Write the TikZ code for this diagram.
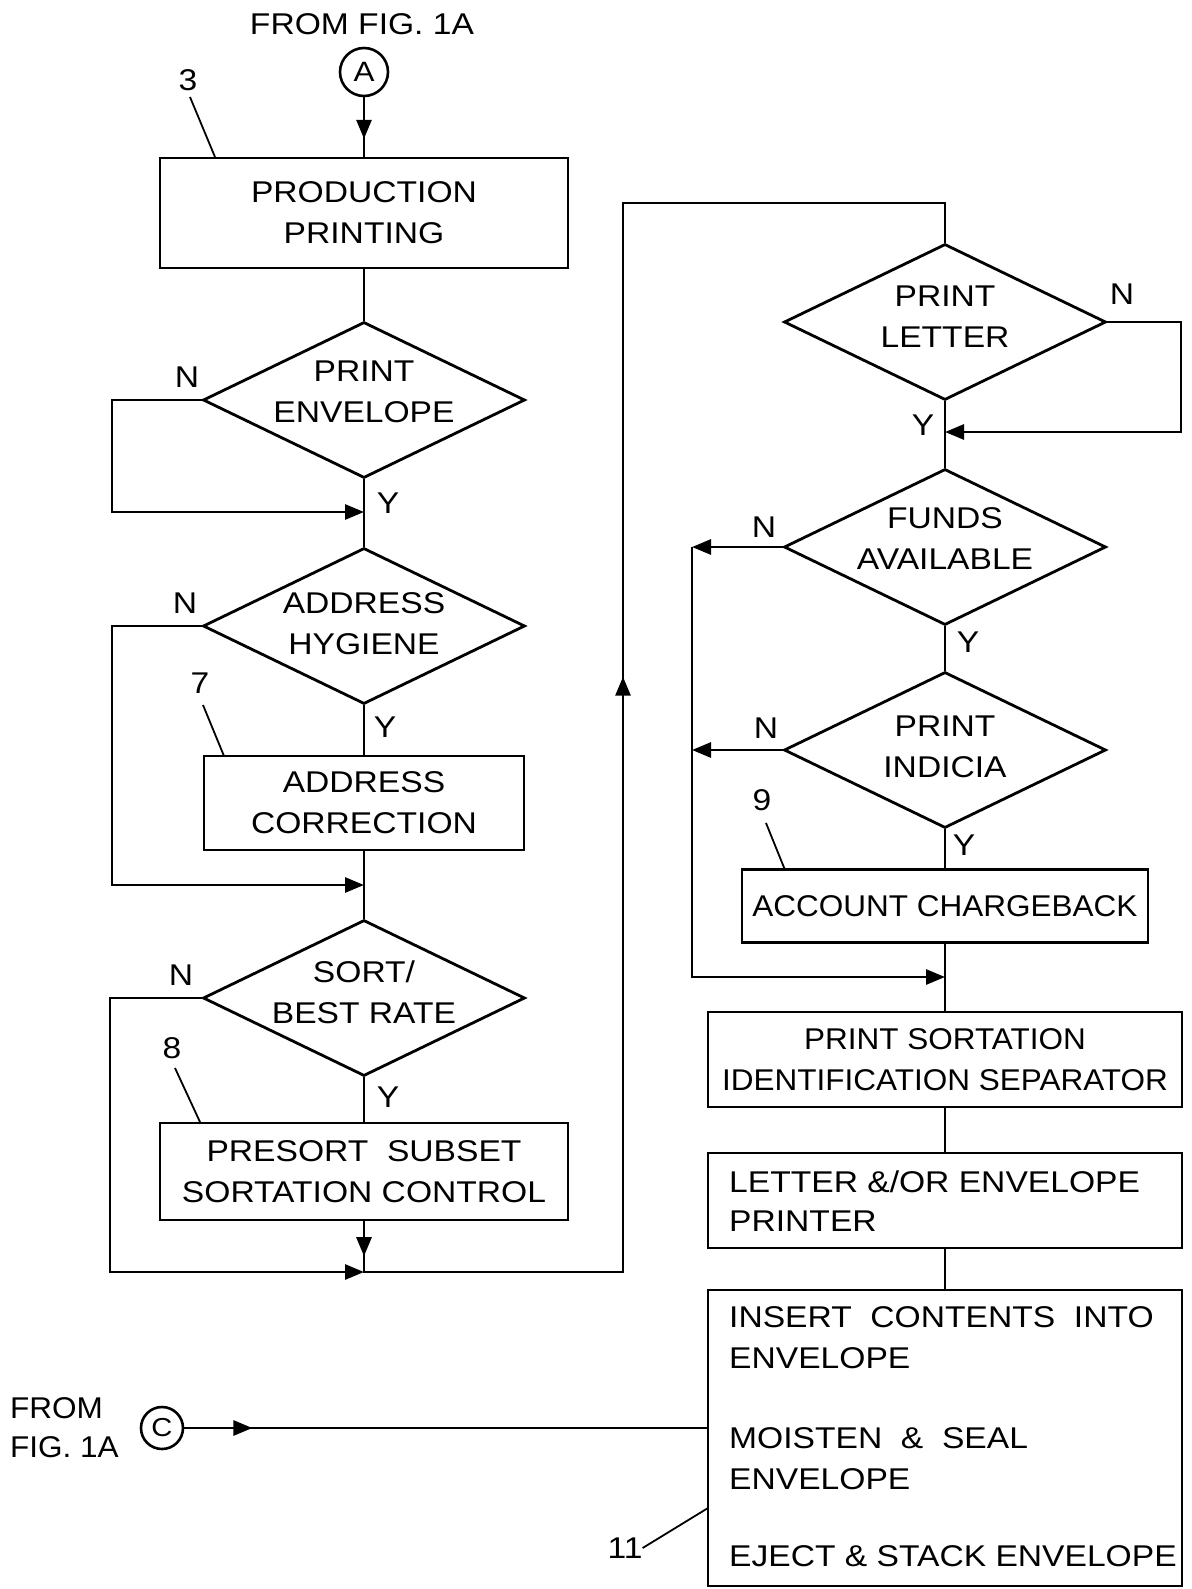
\documentclass[tikz,border=0pt]{standalone}
\usepackage{fontspec}
\setmainfont[FakeStretch=1.12]{Liberation Sans}
\newfontfamily\narrowfam[FakeStretch=1.05]{Liberation Sans}
\usetikzlibrary{shapes.geometric,arrows.meta,decorations.markings}
\newcommand\mainfs{\fontsize{30}{41}\selectfont}
\newcommand\smallfs{\fontsize{28}{30}\selectfont}
\begin{document}
\begin{tikzpicture}[x=1pt,y=-1pt,
  conn/.style={line width=2.8pt, line join=miter},
  arr/.style={conn, -{Triangle[length=19pt,width=15pt]}},
  midarr/.style={conn, postaction={decorate}, decoration={markings, mark=at position #1 with {\arrow{Triangle[length=19pt,width=15pt]}}}},
  box/.style={draw, line width=2.8pt, inner sep=0pt, align=center, font=\mainfs},
  dia/.style={draw, diamond, line width=2.8pt, inner sep=0pt, minimum width=322pt, minimum height=156pt},
  txt/.style={align=center, font=\mainfs, inner sep=0pt},
  ltxt/.style={anchor=west, align=left, font=\mainfs, inner sep=0pt},
  lbl/.style={font=\mainfs, inner sep=0pt},
  conncirc/.style={draw, circle, line width=2.6pt, inner sep=0pt, font=\smallfs},
  leader/.style={line width=1.8pt}
]
\useasboundingbox (0,0) rectangle (1191,1589);

% ---------- left column ----------
\node[txt] (fromA) at (362,24) {FROM FIG. 1A};
\node[conncirc, minimum size=48pt] (A) at (364,72) {A};
\node[box, minimum width=408pt, minimum height=110pt] (prod) at (364,213) {PRODUCTION\\PRINTING};
\node[lbl] (l3) at (188,80) {3};

\node[dia] (d1) at (364,400) {};
\node[txt] (t1) at ([yshift=8pt]d1.center) {PRINT\\ENVELOPE};
\node[dia] (d2) at (364,626) {};
\node[txt] (t2) at ([yshift=2pt]d2.center) {ADDRESS\\HYGIENE};
\node[box, minimum width=320pt, minimum height=94pt] (acor) at (364,803) {ADDRESS\\CORRECTION};
\node[lbl] (l7) at (200,683) {7};
\node[dia] (d3) at (364,998) {};
\node[txt] (t3) at ([yshift=6pt]d3.center) {SORT/\\BEST RATE};
\node[box, minimum width=408pt, minimum height=97pt] (presort) at (364,1171.5) {PRESORT\ \ SUBSET\\SORTATION CONTROL};
\node[lbl] (l8) at (172,1048) {8};

\node[lbl] (n1) at (187,377) {N};
\node[lbl] (y1) at (388,503) {Y};
\node[lbl] (n2) at (185,603) {N};
\node[lbl] (y2) at (385,727) {Y};
\node[lbl] (n3) at (181,975) {N};
\node[lbl] (y3) at (388,1097) {Y};

% ---------- right column ----------
\node[dia] (d4) at (945,322) {};
\node[txt] (t4) at ([yshift=5pt]d4.center) {PRINT\\LETTER};
\node[dia] (d5) at (945,547) {};
\node[txt] (t5) at ([yshift=8pt]d5.center) {FUNDS\\AVAILABLE};
\node[dia] (d6) at (945,750) {};
\node[txt] (t6) at ([yshift=3pt]d6.center) {PRINT\\INDICIA};
\node[box, minimum width=406pt, minimum height=73pt, font=\narrowfam\mainfs] (acct) at (945,906) {ACCOUNT CHARGEBACK};
\node[lbl] (l9) at (762,800) {9};
\node[box, minimum width=474pt, minimum height=95pt, font=\narrowfam\mainfs] (psort) at (945,1059.5) {PRINT SORTATION\\IDENTIFICATION SEPARATOR};
\node[box, minimum width=474pt, minimum height=95pt] (lett) at (945,1200.5) {};
\node[ltxt] (lett1) at (729,1182) {LETTER \&/OR ENVELOPE};
\node[ltxt] (lett2) at (729,1221) {PRINTER};
\node[box, minimum width=474pt, minimum height=296pt] (ins) at (945,1438) {};
\node[ltxt] (i1) at (729,1317) {INSERT\ \ CONTENTS\ \ INTO};
\node[ltxt] (i2) at (729,1358) {ENVELOPE};
\node[ltxt] (i3) at (729,1438) {MOISTEN\ \ \&\ \ SEAL};
\node[ltxt] (i4) at (729,1479) {ENVELOPE};
\node[ltxt] (i5) at (729,1556) {EJECT \& STACK ENVELOPE};
\node[lbl] (l11) at (625,1548) {11};

\node[lbl] (n4) at (1122,294) {N};
\node[lbl] (y4) at (923,425) {Y};
\node[lbl] (n5) at (764,527) {N};
\node[lbl] (y5) at (968,642) {Y};
\node[lbl] (n6) at (766,728) {N};
\node[lbl] (y6) at (964,845) {Y};

% ---------- bottom-left connector ----------
\node[ltxt, font=\narrowfam\mainfs] (fromC1) at (10,1408) {FROM};
\node[ltxt, font=\narrowfam\mainfs] (fromC2) at (10,1447) {FIG. 1A};
\node[conncirc, minimum size=42pt, font=\fontsize{26}{28}\selectfont] (C) at (162,1428) {C};

% ---------- coordinates ----------
\coordinate (j1) at (364,512);
\coordinate (j2) at (364,885);
\coordinate (j3) at (364,1272);
\coordinate (lb) at (623,1272);
\coordinate (lt) at (623,203);
\coordinate (rt) at (945,203);
\coordinate (j4) at (945,432);
\coordinate (k5) at (692,547);
\coordinate (k6) at (692,750);
\coordinate (kb) at (692,977);
\coordinate (j6) at (945,977);
\coordinate (cin) at (708,1428);

% ---------- connectors left ----------
\draw[midarr=0.70] (A) -- (prod);
\draw[conn] (prod) -- (d1);
\draw[conn] (d1) -- (d2);
\draw[conn] (d2) -- (acor);
\draw[conn] (acor) -- (d3);
\draw[conn] (d3) -- (presort);
\draw[arr] (d1.west) -- (112,400) -- (112,512) -- (j1);
\draw[arr] (d2.west) -- (112,626) -- (112,885) -- (j2);
\draw[arr] (d3.west) -- (110,998) -- (110,1272) -- (j3);
\draw[conn, postaction={decorate}, decoration={markings,
   mark=at position 0.02 with {\arrow{Triangle[length=19pt,width=15pt]}},
   mark=at position 0.52 with {\arrow{Triangle[length=19pt,width=15pt]}}}]
   (presort.south) -- (j3) -- (lb) -- (lt) -- (rt) -- (d4.north);

% ---------- connectors right ----------
\draw[conn] (d4) -- (d5);
\draw[arr] (d4.east) -- (1181,322) -- (1181,432) -- (j4);
\draw[conn] (d5) -- (d6);
\draw[arr] (d5.west) -- (k5);
\draw[arr] (d6.west) -- (k6);
\draw[arr] (k5) -- (kb) -- (j6);
\draw[conn] (d6) -- (acct);
\draw[conn] (acct) -- (psort);
\draw[conn] (psort) -- (lett);
\draw[conn] (lett) -- (ins);
\draw[midarr=0.13] (C) -- (cin);

% ---------- reference leaders ----------
\draw[leader] (l3) ++(2,17) -- (215,157);
\draw[leader] (l7) ++(3,22) -- (224,756);
\draw[leader] (l8) ++(3,20) -- (200,1122);
\draw[leader] (l9) ++(4,23) -- (785,870);
\draw[leader] (l11.east) -- (708,1508);
\end{tikzpicture}
\end{document}
